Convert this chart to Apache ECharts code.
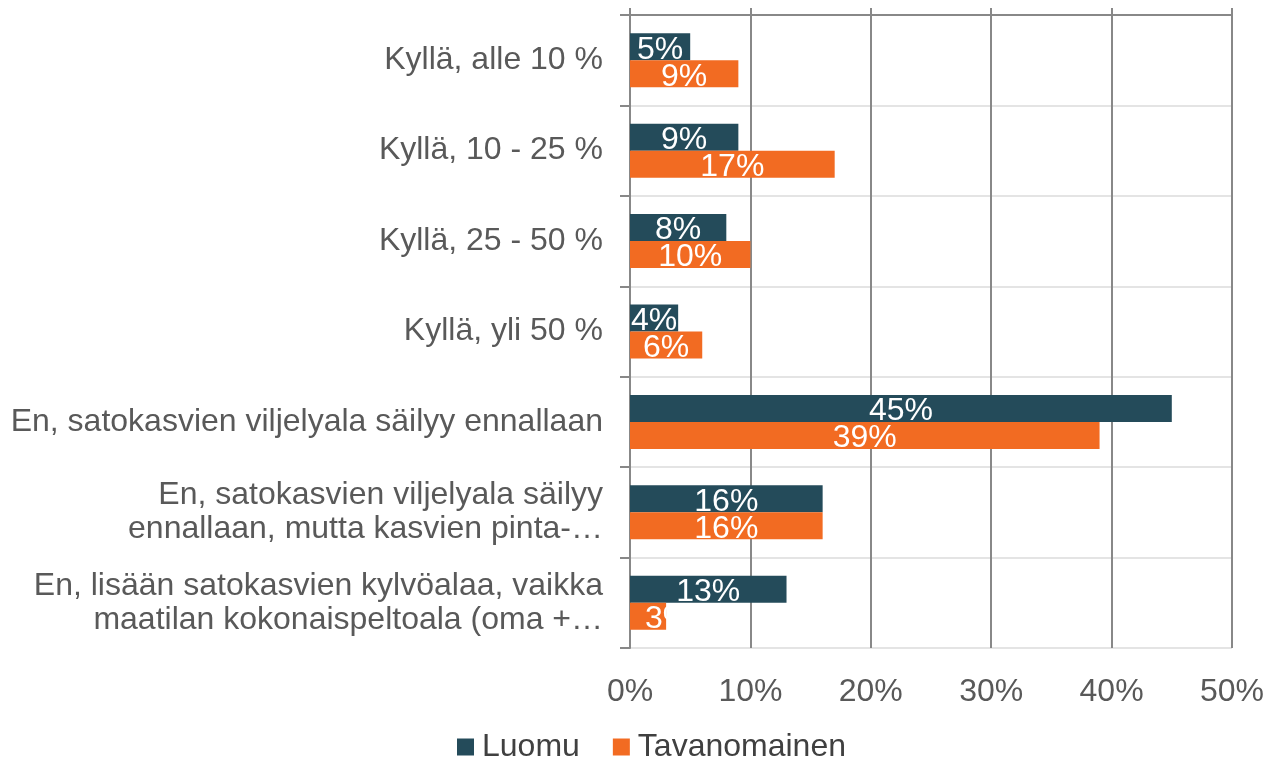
<!DOCTYPE html>
<html>
<head>
<meta charset="utf-8">
<script src="https://cdn.jsdelivr.net/npm/echarts@6/dist/echarts.min.js"></script>
<style>
  html, body { margin: 0; padding: 0; background: #fff; }
  #chart { width: 1268px; height: 759px; }
</style>
</head>
<body>
<div id="chart"></div>
<script>
// categories top to bottom
const categories = [
  "Kyllä, alle 10 %",
  "Kyllä, 10 - 25 %",
  "Kyllä, 25 - 50 %",
  "Kyllä, yli 50 %",
  "En, satokasvien viljelyala säilyy ennallaan",
  "En, satokasvien viljelyala säilyy\nennallaan, mutta kasvien pinta-…",
  "En, lisään satokasvien kylvöalaa, vaikka\nmaatilan kokonaispeltoala (oma +…"
];
const luomu = [5, 9, 8, 4, 45, 16, 13];
const tavanomainen = [9, 17, 10, 6, 39, 16, 3];
const xTicks = [0, 10, 20, 30, 40, 50];

const FONT = "'Liberation Sans', Arial, sans-serif";
const chart = echarts.init(document.getElementById("chart"));

const barLabel = {
  show: true,
  position: "inside",
  offset: [0, 3],
  color: "#fff",
  fontSize: 32,
  fontFamily: FONT,
  formatter: "{c}%"
};

// label too wide for a short bar: Excel pushes it right and clips it
function toItems(values) {
  return values.map(v => v < 4 ? { value: v, label: { offset: [20, 3] } } : v);
}

chart.setOption({
  animation: false,
  grid: { left: 630, right: 36, top: 15, bottom: 111 },
  legend: {
    top: 726,
    left: 452,
    itemWidth: 17,
    itemHeight: 17,
    itemGap: 33,
    icon: "rect",
    textStyle: { fontSize: 32, color: "#404040", fontFamily: FONT, padding: [0, 0, 0, 3] },
    data: ["Luomu", "Tavanomainen"]
  },
  xAxis: [
    {
      type: "value",
      min: xTicks[0],
      max: xTicks[xTicks.length - 1],
      interval: 10,
      axisLine: { show: false },
      axisTick: { show: false },
      axisLabel: {
        formatter: "{value}%",
        fontSize: 32,
        color: "#595959",
        fontFamily: FONT,
        margin: 28
      },
      splitLine: { show: true, lineStyle: { color: "#888", width: 2 } }
    },
    {
      type: "value",
      position: "top",
      min: xTicks[0],
      max: xTicks[xTicks.length - 1],
      interval: 10,
      axisLine: { show: true, lineStyle: { color: "#888", width: 2 } },
      axisTick: { show: true, length: 7, lineStyle: { color: "#888", width: 2 } },
      axisLabel: { show: false },
      splitLine: { show: false }
    }
  ],
  yAxis: {
    type: "category",
    inverse: true,
    data: categories,
    axisLine: { show: true, lineStyle: { color: "#888", width: 2 } },
    axisTick: { show: true, length: 10, lineStyle: { color: "#888", width: 2 } },
    splitLine: { show: true, lineStyle: { color: "#e4e4e4", width: 2 } },
    axisLabel: {
      fontSize: 32,
      lineHeight: 34,
      color: "#595959",
      fontFamily: FONT,
      margin: 27,
      align: "right"
    }
  },
  series: [
    {
      name: "Luomu",
      type: "bar",
      data: toItems(luomu),
      barWidth: 27,
      barGap: "0%",
      itemStyle: { color: "#244b5a" },
      label: barLabel
    },
    {
      name: "Tavanomainen",
      type: "bar",
      data: toItems(tavanomainen),
      barWidth: 27,
      barGap: "0%",
      itemStyle: { color: "#f26b22" },
      label: barLabel
    }
  ]
});
</script>
</body>
</html>
